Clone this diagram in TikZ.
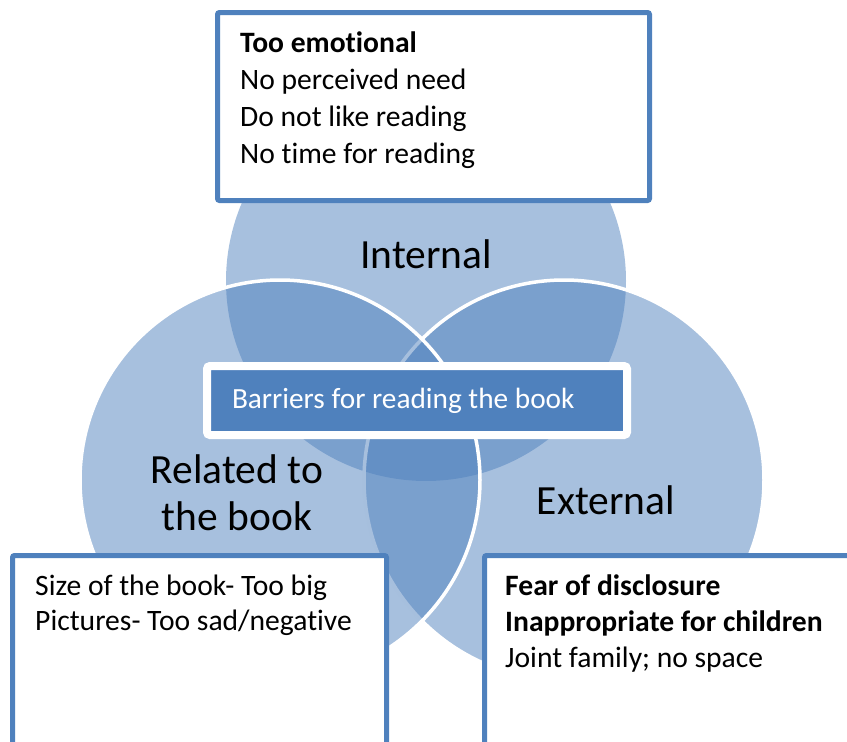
\documentclass[tikz,border=0pt]{standalone}
\usepackage{fontspec}
\setmainfont{Carlito}[Ligatures=NoCommon]
\usepackage{tikz}
\usetikzlibrary{shadows}

\definecolor{vennblue}{HTML}{4F81BD}

\begin{document}
\begin{tikzpicture}[x=1pt, y=-1pt,
  venn/.style={fill=vennblue, fill opacity=0.5},
  venn edge/.style={draw=white, line width=3.5pt},
  infobox/.style={draw=vennblue, line width=5pt, fill=white, rounded corners=2pt},
  boxtext/.style={anchor=base west, inner sep=0pt},
  circletext/.style={anchor=base, inner sep=0pt, font=\fontsize{41.5}{47}\selectfont}]
\useasboundingbox (0,0) rectangle (847,742);
\clip (0,0) rectangle (847,742);

% three sets, top one first
\fill[venn] (426,281) circle (200pt);
\draw[venn, venn edge] (564,480) circle (200pt);
\draw[venn, venn edge] (280,480) circle (200pt);

\node[circletext] (internal) at (426,268) {Internal};
\node[circletext] (related) at (237,483) {\begin{tabular}[t]{@{}c@{}}
Related to \\
the book
\end{tabular}};
\node[circletext] (external) at (606,514) {External};

% boxes with the reasons
\draw[infobox] (217.5,12.5) rectangle (649.5,200.5);
\node[boxtext, font=\fontsize{29.6}{37}\selectfont] (internal reasons) at (240,52) {\begin{tabular}[t]{@{}l@{}}
\textbf{Too emotional} \\
No perceived need \\
Do not like reading \\
No time for reading
\end{tabular}};

\draw[infobox] (12.5,555.5) rectangle (386.5,770);
\node[boxtext, font=\fontsize{29.6}{35}\selectfont] (book reasons) at (35,595) {\begin{tabular}[t]{@{}l@{}}
Size of the book- Too big \\
Pictures- Too sad/negative
\end{tabular}};

\draw[infobox] (484.5,555.5) rectangle (880,770);
\node[boxtext, font=\fontsize{29.6}{36}\selectfont] (external reasons) at (505,595) {\begin{tabular}[t]{@{}l@{}}
\textbf{Fear of disclosure} \\
\textbf{Inappropriate for children} \\
Joint family; no space
\end{tabular}};

\node[draw=white, line width=8pt, fill=vennblue, rounded corners=3pt, minimum width=420pt, minimum height=69pt, text width=370pt, inner xsep=25pt, text=white, font=\fontsize{29.3}{36}\selectfont, drop shadow={opacity=0.35, shadow xshift=1pt, shadow yshift=-2pt}] (barriers) at (417,400.5) {\spaceskip=0pt \xspaceskip=0pt Barriers for reading the book};
\end{tikzpicture}
\end{document}
